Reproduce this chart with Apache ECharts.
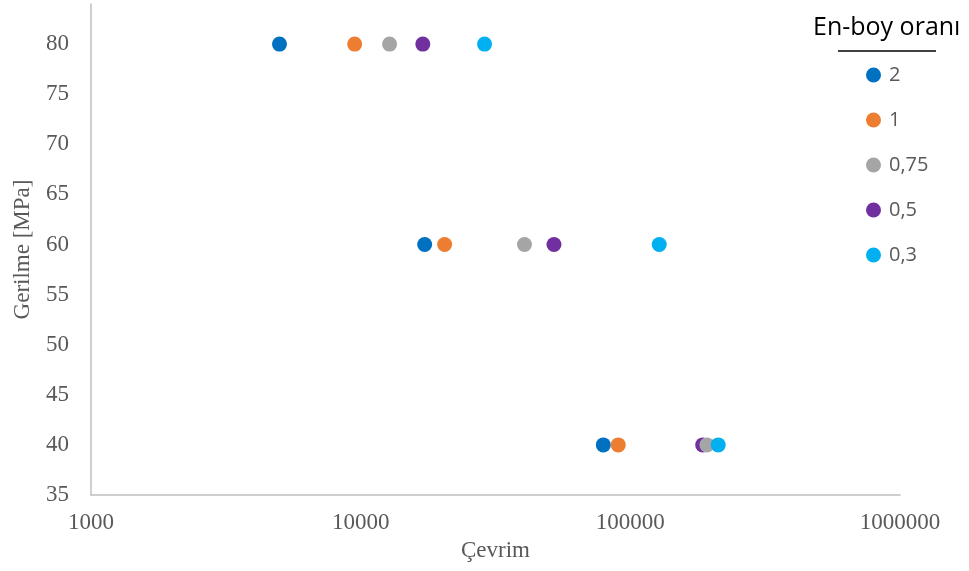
<!DOCTYPE html>
<html>
<head>
<meta charset="utf-8">
<script src="https://cdn.jsdelivr.net/npm/echarts@6/dist/echarts.min.js"></script>
<style>html,body{margin:0;padding:0;background:#fff;}#c{width:969px;height:571px;}</style>
</head>
<body>
<div id="c"></div>
<script>
const categories = ['2', '1', '0,75', '0,5', '0,3'];
const stressLevels = [80, 60, 40];
const cycles2   = [5000, 17270, 79400];
const cycles1   = [9500, 20480, 90200];
const cycles075 = [12800, 40500, 192300];
const cycles05  = [17000, 52100, 185500];
const cycles03  = [28800, 128000, 211800];
const xTicks = [1000, 10000, 100000, 1000000];
const yTicks = [35, 40, 45, 50, 55, 60, 65, 70, 75, 80];

const colors = ['#0070C0', '#ED7D31', '#A5A5A5', '#7030A0', '#00B0F0'];
const allCycles = [cycles2, cycles1, cycles075, cycles05, cycles03];
const zOrder = [2, 3, 5, 4, 6];

const chart = echarts.init(document.getElementById('c'));
const serif = 'Liberation Serif';
const sans = 'Open Sans';

chart.setOption({
  animation: false,
  backgroundColor: '#fff',
  grid: { left: 91, right: 69, top: 4, bottom: 76 },
  xAxis: {
    type: 'log', logBase: 10, min: xTicks[0], max: xTicks[xTicks.length - 1],
    name: 'Çevrim', nameLocation: 'middle', nameGap: 44,
    nameTextStyle: { fontFamily: serif, fontSize: 23, color: '#595959' },
    axisLine: { lineStyle: { color: '#BFBFBF', width: 1.5 } },
    axisTick: { show: false },
    splitLine: { show: false },
    axisLabel: { fontFamily: serif, fontSize: 23, color: '#595959', margin: 16,
      formatter: v => String(Math.round(v)) }
  },
  yAxis: {
    type: 'value', min: yTicks[0], max: 84, interval: 5,
    name: 'Gerilme [MPa]', nameLocation: 'middle', nameGap: 57,
    nameTextStyle: { fontFamily: serif, fontSize: 23, color: '#595959' },
    axisLine: { show: true, lineStyle: { color: '#BFBFBF', width: 1.5 } },
    axisTick: { show: false },
    splitLine: { show: false },
    axisLabel: { fontFamily: serif, fontSize: 23, color: '#595959', margin: 22, showMaxLabel: false,
      formatter: v => (yTicks.indexOf(v) >= 0 ? String(v) : '') }
  },
  legend: {
    orient: 'vertical', left: 866, top: 65, padding: 0,
    itemWidth: 15, itemHeight: 15, itemGap: 25,
    icon: 'circle',
    data: categories,
    textStyle: { fontFamily: sans, fontSize: 20, color: '#595959', padding: [0, 0, 0, 3] }
  },
  graphic: [
    { type: 'text', left: 813, top: 15,
      style: { text: 'En-boy oranı', font: '25px "Open Sans"', fill: '#000' } },
    { type: 'line', shape: { x1: 838, y1: 51, x2: 936, y2: 51 },
      style: { stroke: '#000', lineWidth: 1.3 } }
  ],
  series: categories.map((name, i) => ({
    name: name,
    type: 'scatter',
    symbol: 'circle',
    symbolSize: 15,
    z: zOrder[i],
    itemStyle: { color: colors[i], opacity: 1 },
    data: allCycles[i].map((c, k) => [c, stressLevels[k]])
  }))
});
</script>
</body>
</html>
